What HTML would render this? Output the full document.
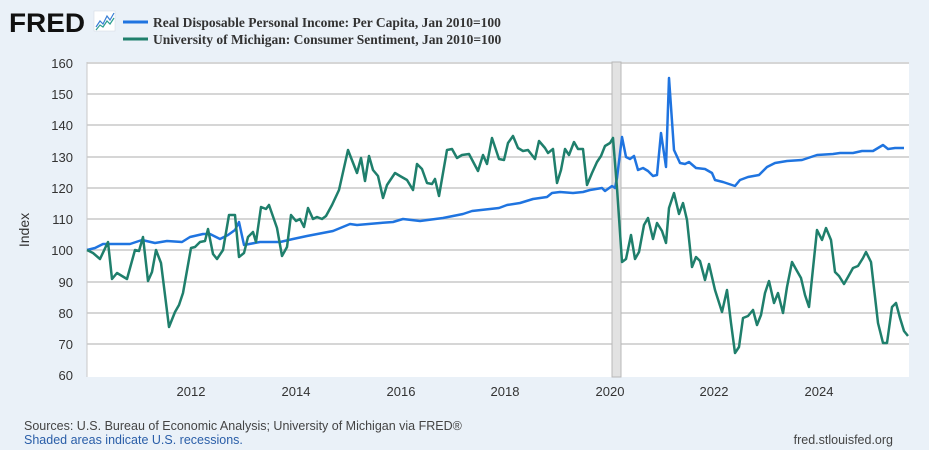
<!DOCTYPE html>
<html><head><meta charset="utf-8"><style>
body{margin:0;width:929px;height:450px;background:#eaf1f8;font-family:"Liberation Sans",sans-serif;overflow:hidden}
</style></head><body>
<svg width="929" height="450" xmlns="http://www.w3.org/2000/svg" style="position:absolute;left:0;top:0">
<rect x="0" y="0" width="929" height="450" fill="#eaf1f8"/>
<text x="9" y="32" font-family="Liberation Sans" font-weight="bold" font-size="27" fill="#111" textLength="76" lengthAdjust="spacingAndGlyphs">FRED</text>
<rect x="94" y="11" width="21" height="20" fill="#fff" stroke="#cfd8e0" stroke-width="0.5"/>
<polyline points="96,27 100,21 103,24 107,16 110,20 114,13" fill="none" stroke="#3a7fd5" stroke-width="1.2"/>
<polyline points="96,30 100,25 103,27 107,21 110,24 114,18" fill="none" stroke="#2a9d8f" stroke-width="1.2"/>
<line x1="123" y1="22" x2="148" y2="22" stroke="#1f74e0" stroke-width="3"/>
<line x1="123" y1="39" x2="148" y2="39" stroke="#1f7f6c" stroke-width="3"/>
<text x="153" y="27" font-family="Liberation Serif" font-weight="bold" font-size="13.5" fill="#333">Real Disposable Personal Income: Per Capita, Jan 2010=100</text>
<text x="153" y="44" font-family="Liberation Serif" font-weight="bold" font-size="13.5" fill="#333">University of Michigan: Consumer Sentiment, Jan 2010=100</text>
<rect x="87" y="62" width="822" height="315" fill="#fff"/>
<g stroke="#c8c8c8" stroke-width="1.5">
<line x1="87" x2="909" y1="63" y2="63"/><line x1="87" x2="909" y1="94" y2="94"/><line x1="87" x2="909" y1="125" y2="125"/><line x1="87" x2="909" y1="157" y2="157"/><line x1="87" x2="909" y1="188" y2="188"/><line x1="87" x2="909" y1="219" y2="219"/><line x1="87" x2="909" y1="250" y2="250"/><line x1="87" x2="909" y1="282" y2="282"/><line x1="87" x2="909" y1="313" y2="313"/><line x1="87" x2="909" y1="344" y2="344"/>
</g>
<line x1="87" x2="87" y1="62" y2="377" stroke="#c8c8c8" stroke-width="1"/>
<rect x="612" y="62" width="9" height="315" fill="#e2e2e2" stroke="#b8b8b8" stroke-width="1"/>
<g font-size="13" fill="#333" text-anchor="end" font-family="Liberation Sans">
<text x="73" y="68">160</text><text x="73" y="99">150</text><text x="73" y="130">140</text><text x="73" y="162">130</text><text x="73" y="193">120</text><text x="73" y="224">110</text><text x="73" y="255">100</text><text x="73" y="287">90</text><text x="73" y="318">80</text><text x="73" y="349">70</text><text x="73" y="380">60</text>
</g>
<g font-size="13" fill="#333" text-anchor="middle" font-family="Liberation Sans">
<text x="191" y="396">2012</text><text x="296" y="396">2014</text><text x="401" y="396">2016</text><text x="505" y="396">2018</text><text x="610" y="396">2020</text><text x="714" y="396">2022</text><text x="819" y="396">2024</text>
</g>
<text transform="translate(29,230) rotate(-90)" font-size="14" fill="#333" text-anchor="middle">Index</text>
<polyline fill="none" stroke="#1f74e0" stroke-width="2.5" stroke-linejoin="round" points="87,250 95,248 103,244 113,244 130,244 142,240 155,243 167,241 182,242 190,237 203,234 210,234 220,239 228,235 235,230 239,222 244,245 260,242 280,242 293,239 307,236 333,231 350,224 357,225 380,223 393,222 403,219 420,221 443,218 463,214 472,211 499,208 507,205 520,203 533,199 547,197 552,193 560,192 573,193 583,192 590,190 602,188 605,191 612,186 615,188 617,178 622,137 626,157 630,159 634,156 638,170 643,168 648,171 653,176 657,175 661,133 666,167 669,78 674,150 680,163 685,164 689,162 696,168 705,169 712,173 715,180 723,182 735,186 740,180 748,177 759,175 767,167 775,163 787,161 802,160 817,155 833,154 840,153 853,153 862,151 873,151 883,145 888,149 895,148 904,148"/>
<polyline fill="none" stroke="#1f7f6c" stroke-width="2.5" stroke-linejoin="round" points="87,250 93,253 100,259 108,242 112,279 117,273 127,279 135,250 139,251 143,237 148,281 152,272 156,250 161,263 169,327 175,312 179,305 183,293 191,248 195,247 200,242 205,241 208,229 213,254 217,259 223,250 229,215 235,215 239,257 244,253 248,237 253,232 256,242 261,207 266,209 269,205 277,228 282,256 287,247 291,215 296,221 300,219 304,227 308,208 313,219 317,217 322,219 326,216 332,205 339,190 348,150 357,173 361,158 365,181 369,156 373,170 378,176 383,198 387,185 395,173 400,176 407,180 413,190 417,164 422,169 427,183 432,184 435,179 439,196 447,150 452,149 457,158 462,155 469,154 478,171 483,155 487,164 492,138 499,159 504,160 508,143 513,136 518,148 523,151 528,150 535,159 539,141 545,148 548,153 553,149 557,183 561,170 565,149 569,155 574,142 578,149 583,149 587,185 592,173 597,162 601,156 605,146 610,143 613,138 617,188 622,262 626,259 631,235 635,259 639,252 644,225 648,218 653,239 657,223 662,231 666,243 669,208 674,193 679,214 683,203 687,220 692,267 696,257 700,261 705,280 709,264 715,290 722,312 727,290 731,323 735,353 739,347 743,318 748,316 753,310 757,325 761,315 765,293 769,281 774,303 778,293 783,313 787,287 792,262 797,271 801,278 805,295 809,307 817,230 822,240 826,228 831,240 835,272 839,276 844,284 848,277 853,268 858,266 863,258 866,252 871,262 878,323 883,343 887,343 892,307 896,303 900,318 904,331 908,336"/>
<text x="24" y="430" font-size="12.5" fill="#444">Sources: U.S. Bureau of Economic Analysis; University of Michigan via FRED®</text>
<text x="24" y="444" font-size="12.5" fill="#2a5ea8">Shaded areas indicate U.S. recessions.</text>
<text x="893" y="444" font-size="12.5" fill="#444" text-anchor="end">fred.stlouisfed.org</text>
</svg>
</body></html>
